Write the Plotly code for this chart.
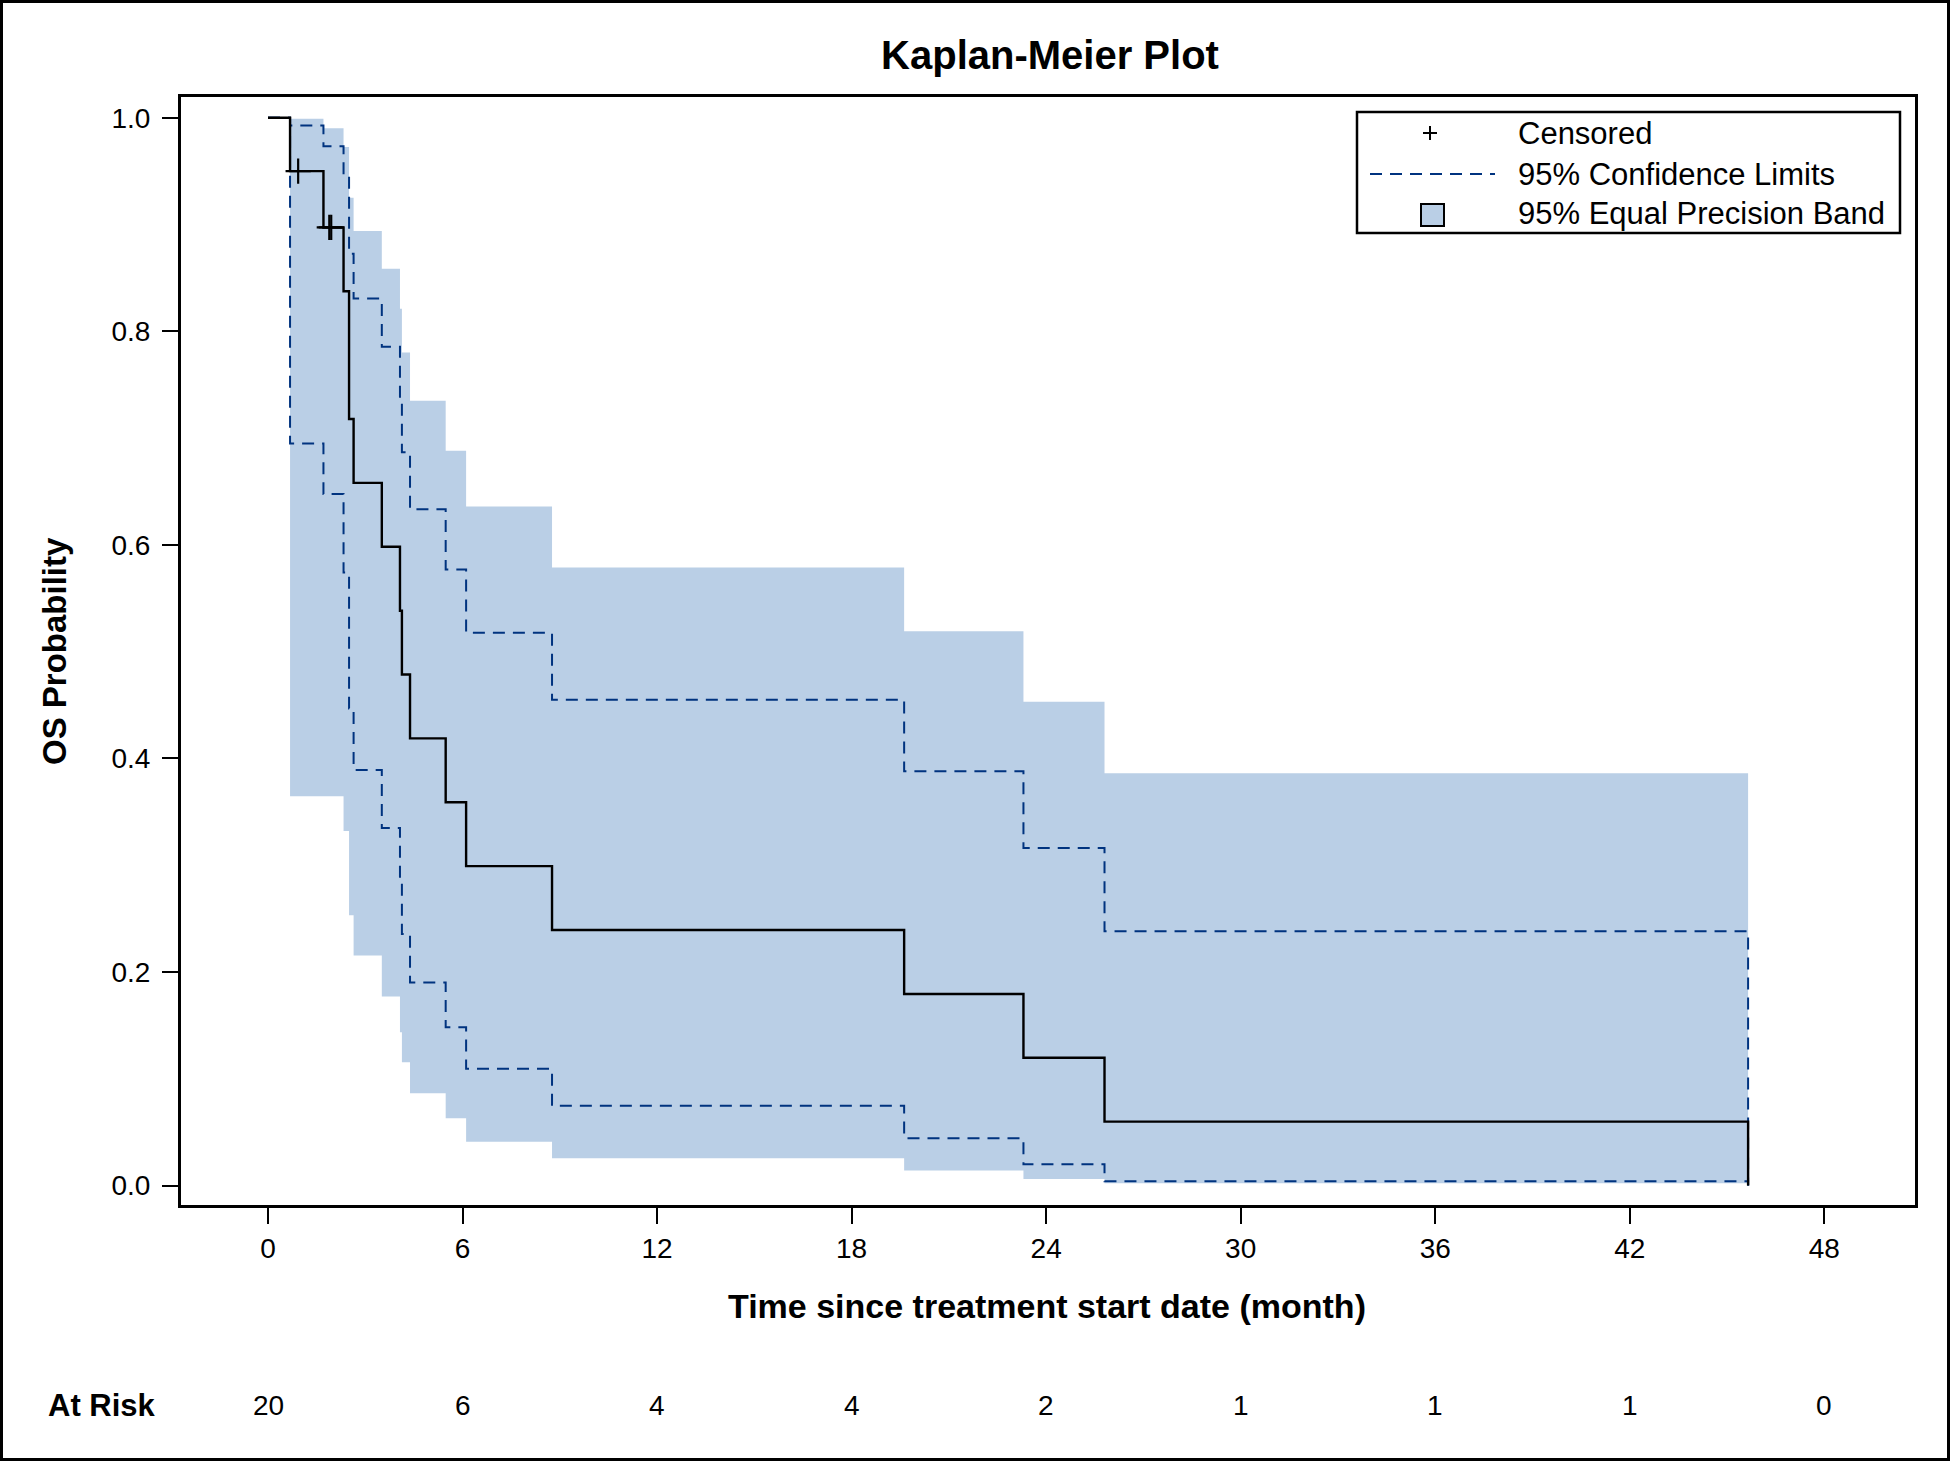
import plotly.graph_objects as go

# ---------------- data ----------------
event_times = [0.68, 1.71, 2.33, 2.50, 2.64, 3.51, 4.07, 4.13, 4.38, 5.48,
               6.11, 8.76, 19.62, 23.30, 25.80, 45.65]
survival = [0.9500, 0.8972, 0.8374, 0.7178, 0.6580, 0.5982, 0.5383, 0.4785,
            0.4187, 0.3589, 0.2991, 0.2393, 0.1794, 0.1196, 0.0598, 0.0]
cl_upper = [0.9928, 0.9733, 0.9449, 0.8725, 0.8306, 0.7855, 0.7376, 0.6868,
            0.6333, 0.5770, 0.5176, 0.4548, 0.3879, 0.3161, 0.2382, 0.0]
cl_lower = [0.6948, 0.6475, 0.5740, 0.4467, 0.3891, 0.3349, 0.2837, 0.2355,
            0.1902, 0.1481, 0.1094, 0.0746, 0.0443, 0.0199, 0.0040, 0.0]
band_upper = [0.999, 0.990, 0.9725, 0.925, 0.894, 0.8586, 0.821, 0.780,
              0.735, 0.688, 0.636, 0.5787, 0.519, 0.453, 0.386, 0.386]
band_lower = [0.3645, 0.3645, 0.332, 0.253, 0.2154, 0.177, 0.1436, 0.1155,
              0.0865, 0.063, 0.041, 0.0256, 0.014, 0.006, 0.002, 0.002]
censor_times = [0.93, 1.89, 1.95]
censor_surv = [0.95, 0.8972, 0.8972]
start_time = 0.0
start_surv = 1.0

risk_times = [0, 6, 12, 18, 24, 30, 36, 42, 48]
at_risk = [20, 6, 4, 4, 2, 1, 1, 1, 0]
y_ticks = [0.0, 0.2, 0.4, 0.6, 0.8, 1.0]
y_tick_labels = ["0.0", "0.2", "0.4", "0.6", "0.8", "1.0"]

title_text = "Kaplan-Meier Plot"
x_title = "Time since treatment start date (month)"
y_title = "OS Probability"
legend_labels = ["Censored", "95% Confidence Limits", "95% Equal Precision Band"]

# ---------------- style ----------------
W, H = 1950, 1461
ML, MR, MT, MB = 181, 35, 97, 256
PW, PH = W - ML - MR, H - MT - MB
FONT = "Liberation Sans, Arial, sans-serif"
BAND = "#BACFE6"
CLCOL = "#00337F"


def px(xp):
    return (xp - ML) / PW


def py(yp):
    return (H - MB - yp) / PH


fig = go.Figure()

# equal precision band
fig.add_trace(go.Scatter(x=event_times, y=band_lower, mode="lines",
                         line=dict(shape="hv", width=0, color=BAND),
                         hoverinfo="skip", showlegend=False))
fig.add_trace(go.Scatter(x=event_times, y=band_upper, mode="lines",
                         line=dict(shape="hv", width=0, color=BAND),
                         fill="tonexty", fillcolor=BAND,
                         hoverinfo="skip", showlegend=False))

# confidence limits
for cl in (cl_upper, cl_lower):
    fig.add_trace(go.Scatter(x=[start_time] + event_times, y=[start_surv] + cl,
                             mode="lines",
                             line=dict(shape="hv", width=2, color=CLCOL, dash="12px,8px"),
                             showlegend=False))

# KM curve
fig.add_trace(go.Scatter(x=[start_time] + event_times, y=[start_surv] + survival,
                         mode="lines", line=dict(shape="hv", width=2.4, color="black"),
                         showlegend=False))

# censored
fig.add_trace(go.Scatter(x=censor_times, y=censor_surv, mode="markers",
                         marker=dict(symbol="cross-thin", size=18,
                                     line=dict(width=2.2, color="black"), color="black"),
                         showlegend=False))

fig.update_layout(
    width=W, height=H,
    margin=dict(l=ML, r=MR, t=MT, b=MB, pad=0),
    paper_bgcolor="white", plot_bgcolor="white",
    font=dict(family=FONT, color="black", size=28),
    showlegend=False,
    title=dict(text="<b>" + title_text + "</b>", x=1050 / W, xref="container",
               xanchor="center", y=1 - 55 / H, yref="container", yanchor="middle",
               font=dict(size=40, family=FONT, color="black")),
)

fig.update_xaxes(range=[-(268 - ML) / 32.42, 48 + (ML + PW - 1824.3) / 32.42],
                 tickvals=risk_times, ticktext=[str(v) for v in risk_times],
                 showline=True, linewidth=3, linecolor="black", mirror=True,
                 ticks="outside", ticklen=16, tickwidth=2, tickcolor="black",
                 showgrid=False, zeroline=False,
                 tickfont=dict(size=28, family=FONT, color="black"))
fig.update_yaxes(range=[-(1205.5 - 1186.0) / 1068.3, 1 + (117.7 - 97) / 1068.3],
                 tickvals=y_ticks, ticktext=y_tick_labels,
                 showline=True, linewidth=3, linecolor="black", mirror=True,
                 ticks="outside", ticklen=16, tickwidth=2, tickcolor="black",
                 showgrid=False, zeroline=False, ticklabelstandoff=6,
                 tickfont=dict(size=28, family=FONT, color="black"))

ann = []
# axis titles
ann.append(dict(text="<b>" + x_title + "</b>", x=px(1047), y=py(1306), xref="paper", yref="paper",
                xanchor="center", yanchor="middle", showarrow=False,
                font=dict(size=34, family=FONT, color="black")))
ann.append(dict(text="<b>" + y_title + "</b>", x=px(54), y=py(651), xref="paper", yref="paper",
                xanchor="center", yanchor="middle", showarrow=False, textangle=-90,
                font=dict(size=33, family=FONT, color="black")))
# at risk row
ann.append(dict(text="<b>At Risk</b>", x=px(46), y=py(1405), xref="paper", yref="paper",
                xanchor="left", yanchor="middle", showarrow=False,
                font=dict(size=31, family=FONT, color="black")))
for t, n in zip(risk_times, at_risk):
    ann.append(dict(text=str(n), x=t, y=py(1405), xref="x", yref="paper",
                    xanchor="center", yanchor="middle", showarrow=False,
                    font=dict(size=28, family=FONT, color="black")))
# legend texts
for lab, yy in zip(legend_labels, [133, 174, 214]):
    ann.append(dict(text=lab, x=px(1516), y=py(yy), xref="paper", yref="paper",
                    xanchor="left", yanchor="middle", showarrow=False,
                    font=dict(size=31, family=FONT, color="black")))

shapes = []
# outer border
shapes.append(dict(type="rect", xref="paper", yref="paper",
                   x0=px(1.5), x1=px(W - 1.5), y0=py(1.5), y1=py(H - 1.5),
                   line=dict(color="black", width=3), layer="above"))
# legend box
shapes.append(dict(type="rect", xref="paper", yref="paper",
                   x0=px(1357), x1=px(1900), y0=py(112), y1=py(233),
                   line=dict(color="black", width=2.5), fillcolor="white", layer="above"))
# legend plus
shapes.append(dict(type="line", xref="paper", yref="paper",
                   x0=px(1423), x1=px(1437), y0=py(133), y1=py(133),
                   line=dict(color="black", width=2), layer="above"))
shapes.append(dict(type="line", xref="paper", yref="paper",
                   x0=px(1430), x1=px(1430), y0=py(126), y1=py(140),
                   line=dict(color="black", width=2), layer="above"))
# legend dashed line
shapes.append(dict(type="line", xref="paper", yref="paper",
                   x0=px(1370), x1=px(1495), y0=py(174), y1=py(174),
                   line=dict(color=CLCOL, width=2, dash="12px,8px"), layer="above"))
# legend band square
shapes.append(dict(type="rect", xref="paper", yref="paper",
                   x0=px(1421), x1=px(1444), y0=py(204), y1=py(226),
                   line=dict(color="black", width=2), fillcolor=BAND, layer="above"))

fig.update_layout(annotations=ann, shapes=shapes)

fig.write_html("out.html", config={"displayModeBar": False},
               post_script="document.body.style.margin='0';document.body.style.overflow='hidden';")
